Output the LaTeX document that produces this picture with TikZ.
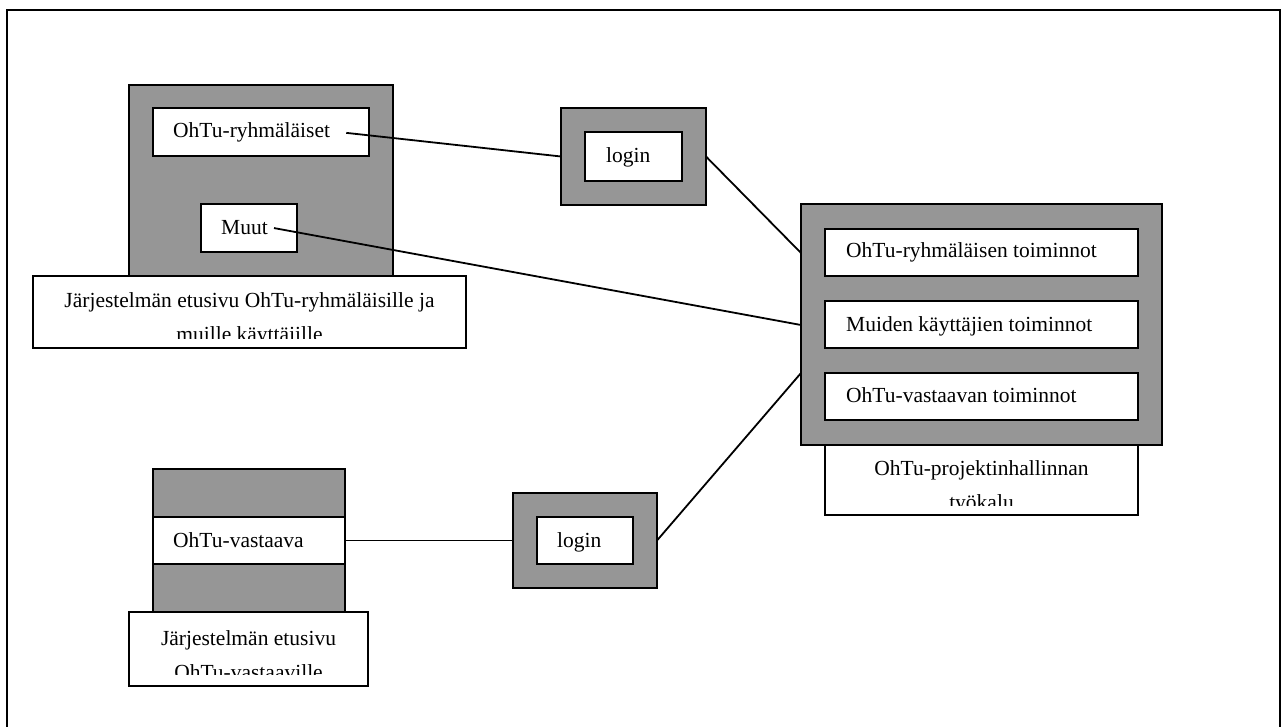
\documentclass[tikz,border=0pt]{standalone}
\usepackage{fontspec}
\setmainfont{Liberation Serif}
\usetikzlibrary{calc}
\definecolor{panelgray}{RGB}{150,150,150}
\begin{document}
\begin{tikzpicture}[x=1pt,y=-1pt,
  frame/.style={draw=black,line width=2pt},
  panel/.style={frame,fill=panelgray,inner sep=0pt,outer sep=0pt,anchor=north west},
  field/.style={frame,fill=white,inner sep=0pt,outer sep=0pt,anchor=north west},
  lbl/.style={font=\fontsize{21.5}{25}\selectfont,inner sep=0pt,anchor=base west},
  clbl/.style={font=\fontsize{21.5}{25}\selectfont,inner sep=0pt,anchor=base},
  link/.style={draw=black,line width=1.8pt}]

% page and outer frame
\useasboundingbox (0,0) rectangle (1281,727);
\fill[white] (0,0) rectangle (1281,727);
\draw[frame] (7,740) -- (7,10) -- (1280,10) -- (1280,740);

% front page for group members and other users
\node[panel,minimum width=264pt,minimum height=191pt] (grpA) at (129,85) {};
\node[field,minimum width=216pt,minimum height=48pt] (memA) at (153,108) {};
\node[lbl] (memAt) at (173,138) {OhTu-ryhmäläiset};
\node[field,minimum width=96pt,minimum height=48pt] (othA) at (201,204) {};
\node[lbl] (othAt) at (221,235) {Muut};
\node[field,minimum width=433pt,minimum height=72pt] (capA) at (33,276) {};
\begin{scope}
  \clip (capA.north west) rectangle ([yshift=10pt]capA.south east);
  \node[clbl] (capA1) at (249.5,307) {Järjestelmän etusivu OhTu-ryhmäläisille ja};
  \node[clbl] (capA2) at (249.5,341) {muille käyttäjille};
\end{scope}

% upper login
\node[panel,minimum width=145pt,minimum height=97pt] (logA) at (561,108) {};
\node[field,minimum width=97pt,minimum height=49pt] (logAin) at (585,132) {};
\node[lbl] (logAt) at (606,163) {login};

% project management tool
\node[panel,minimum width=361pt,minimum height=241pt] (tool) at (801,204) {};
\node[field,minimum width=313pt,minimum height=47pt] (fn1) at (825,229) {};
\node[lbl] (fn1t) at (846,258) {OhTu-ryhmäläisen toiminnot};
\node[field,minimum width=313pt,minimum height=47pt] (fn2) at (825,301) {};
\node[lbl] (fn2t) at (846,331) {Muiden käyttäjien toiminnot};
\node[field,minimum width=313pt,minimum height=47pt] (fn3) at (825,373) {};
\node[lbl] (fn3t) at (846,402) {OhTu-vastaavan toiminnot};
\node[field,minimum width=313pt,minimum height=70pt] (capT) at (825,445) {};
\begin{scope}
  \clip (capT.north west) rectangle ([yshift=10pt]capT.south east);
  \node[clbl] (capT1) at (981.5,475) {OhTu-projektinhallinnan};
  \node[clbl] (capT2) at (981.5,509) {työkalu};
\end{scope}

% front page for the person in charge
\node[panel,minimum width=192pt,minimum height=143pt] (grpB) at (153,469) {};
\node[field,minimum width=192pt,minimum height=47pt] (resB) at (153,517) {};
\node[lbl] (resBt) at (173,547) {OhTu-vastaava};
\node[field,minimum width=239pt,minimum height=74pt] (capB) at (129,612) {};
\begin{scope}
  \clip (capB.north west) rectangle ([yshift=12pt]capB.south east);
  \node[clbl] (capB1) at (248.5,645) {Järjestelmän etusivu};
  \node[clbl] (capB2) at (248.5,679) {OhTu-vastaaville};
\end{scope}

% lower login
\node[panel,minimum width=144pt,minimum height=95pt] (logB) at (513,493) {};
\node[field,minimum width=96pt,minimum height=47pt] (logBin) at (537,517) {};
\node[lbl] (logBt) at (557,547) {login};

% entry points on the tool's left side
\coordinate (inA) at ($(tool.north west)+(0,49)$);
\coordinate (inO) at ($(tool.north west)+(0,121)$);
\coordinate (inB) at ($(tool.north west)+(0,169)$);

% connectors
\draw[link] ([xshift=16pt]memAt.east) -- (logA.west);
\draw[link] (logA.east) -- (inA);
\draw[link] ([xshift=6pt]othAt.east) -- (inO);
\draw[link] (resB.east) -- (logB.west);
\draw[link] (logB.east) -- (inB);
\end{tikzpicture}
\end{document}
